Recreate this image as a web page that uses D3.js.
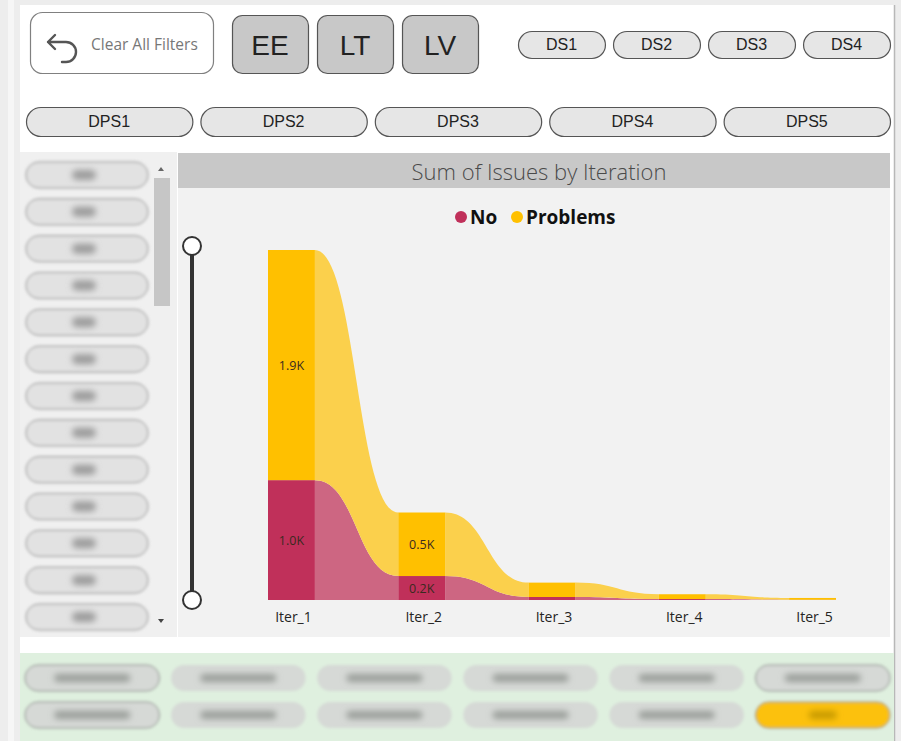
<!DOCTYPE html>
<meta charset="utf-8">
<style>
  body { margin: 0; background: #efefef; }
  svg { display: block; }
  .btnText { font-family: "Liberation Sans", Arial, sans-serif; fill: #222; }
  .seg { font-family: "Open Sans", sans-serif; }
</style>
<body>
<script src="https://d3js.org/d3.v7.min.js"></script>
<script>

// data
var iterations = ["Iter_1", "Iter_2", "Iter_3", "Iter_4", "Iter_5"];
var noValues = [1000, 200, 25, 8, 2];
var problemValues = [1920, 530, 120, 40, 15];
var seriesNames = ["No", "Problems"];

// slicer buttons
var topButtons = ["EE", "LT", "LV"];
var dsButtons = ["DS1", "DS2", "DS3", "DS4"];
var dpsButtons = ["DPS1", "DPS2", "DPS3", "DPS4", "DPS5"];

var W = 901, H = 741;

var svg = d3.select("body").append("svg")
  .attr("width", W)
  .attr("height", H);

var defs = svg.append("defs");
defs.append("filter").attr("id", "blurPill")
  .attr("x", "-10%").attr("y", "-30%").attr("width", "120%").attr("height", "160%")
  .append("feGaussianBlur").attr("stdDeviation", 1.6);
defs.append("filter").attr("id", "blurText")
  .attr("x", "-30%").attr("y", "-80%").attr("width", "160%").attr("height", "260%")
  .append("feGaussianBlur").attr("stdDeviation", 3);

// page frame
svg.append("rect").attr("x", 0).attr("y", 0).attr("width", W).attr("height", H).attr("fill", "#ededed");
svg.append("rect").attr("x", 8).attr("y", 0).attr("width", 6).attr("height", H).attr("fill", "#f6f6f6");
svg.append("rect").attr("x", 20).attr("y", 5).attr("width", 874).attr("height", H - 5).attr("fill", "#fff");
svg.append("line").attr("x1", 894.5).attr("x2", 894.5).attr("y1", 5).attr("y2", H)
  .attr("stroke", "#b8b8b8").attr("stroke-width", 1.5);

// ---------- top controls ----------
var clear = svg.append("g");
clear.append("rect")
  .attr("x", 30.5).attr("y", 12.5).attr("width", 183).attr("height", 61).attr("rx", 12)
  .attr("fill", "#fff").attr("stroke", "#808080").attr("stroke-width", 1.2);
clear.append("path")
  .attr("d", "M48,42 L66,42 A10,10 0 0 1 66,62 L62,62 M55,35 L48,42 L55,49")
  .attr("fill", "none").attr("stroke", "#555").attr("stroke-width", 2.4)
  .attr("stroke-linecap", "round").attr("stroke-linejoin", "round");
clear.append("text")
  .attr("x", 91).attr("y", 50)
  .attr("font-family", "'Open Sans', sans-serif").attr("font-size", 15.5)
  .attr("fill", "#777").text("Clear All Filters");

var bx = d3.scaleBand().domain(topButtons).range([232, 478]).paddingInner(0.106);
var tb = svg.selectAll(".tb").data(topButtons).enter().append("g");
tb.append("rect")
  .attr("x", function(d) { return bx(d) + 0.5; }).attr("y", 15.5)
  .attr("width", bx.bandwidth()).attr("height", 58).attr("rx", 10)
  .attr("fill", "#c8c8c8").attr("stroke", "#555").attr("stroke-width", 1.2);
tb.append("text").attr("class", "btnText")
  .attr("x", function(d) { return bx(d) + bx.bandwidth() / 2; }).attr("y", 55)
  .attr("text-anchor", "middle").attr("font-size", 28).text(function(d) { return d; });

function pillRow(names, x0, x1, y, h, pad, fs) {
  var sc = d3.scaleBand().domain(names).range([x0, x1]).paddingInner(pad);
  var g = svg.append("g").selectAll("g").data(names).enter().append("g");
  g.append("rect")
    .attr("x", function(d) { return sc(d) + 0.5; }).attr("y", y + 0.5)
    .attr("width", sc.bandwidth()).attr("height", h).attr("rx", h / 2)
    .attr("fill", "#e6e6e6").attr("stroke", "#555").attr("stroke-width", 1.2);
  g.append("text").attr("class", "btnText")
    .attr("x", function(d) { return sc(d) + sc.bandwidth() / 2; }).attr("y", y + h / 2 + fs * 0.36)
    .attr("text-anchor", "middle").attr("font-size", fs).text(function(d) { return d; });
}
pillRow(dsButtons, 518, 890, 31, 27, 0.085, 16);
pillRow(dpsButtons, 26, 890, 107, 29, 0.046, 16);

// ---------- left slicer (blurred) ----------
svg.append("rect").attr("x", 20).attr("y", 152).attr("width", 157).attr("height", 485).attr("fill", "#f0f0f0");
var leftRows = d3.range(13);
var ly = d3.scaleLinear().domain([0, 12]).range([162, 604]);
var lp = svg.append("g").selectAll("g").data(leftRows).enter().append("g");
lp.append("rect")
  .attr("x", 26).attr("y", function(d) { return ly(d); })
  .attr("width", 122).attr("height", 26).attr("rx", 13)
  .attr("fill", "#e2e2e2").attr("stroke", "#8a8a8a").attr("stroke-width", 1)
  .attr("filter", "url(#blurPill)");
lp.append("rect")
  .attr("x", 72).attr("y", function(d) { return ly(d) + 8; })
  .attr("width", 24).attr("height", 10).attr("rx", 5)
  .attr("fill", "#9c9c9c").attr("filter", "url(#blurText)");
// scrollbar
svg.append("rect").attr("x", 154).attr("y", 178).attr("width", 16).attr("height", 128).attr("fill", "#c6c6c6");
svg.append("path").attr("d", "M158,171 L164,171 L161,167 Z").attr("fill", "#666");
svg.append("path").attr("d", "M158,619 L164,619 L161,623 Z").attr("fill", "#444");

// ---------- ribbon chart ----------
svg.append("rect").attr("x", 178).attr("y", 153).attr("width", 712).attr("height", 484).attr("fill", "#f2f2f2");
svg.append("rect").attr("x", 178).attr("y", 153).attr("width", 712).attr("height", 35).attr("fill", "#c8c8c8");
svg.append("text")
  .attr("x", 539).attr("y", 180).attr("text-anchor", "middle")
  .attr("font-family", "'Open Sans', sans-serif").attr("font-weight", 300)
  .attr("font-size", 22).attr("fill", "#4a4a4a")
  .text("Sum of Issues by Iteration");

var colors = { No: "#c0305a", Problems: "#ffc000" };
var ribbonColors = { No: "#cd6682", Problems: "#fbd04c" };

// legend
var legend = svg.append("g");
var legX = [461, 517];
seriesNames.forEach(function(s, i) {
  legend.append("circle").attr("cx", legX[i]).attr("cy", 217).attr("r", 6).attr("fill", colors[s]);
  legend.append("text")
    .attr("x", legX[i] + 9).attr("y", 224)
    .attr("font-family", "'Open Sans', sans-serif").attr("font-weight", 700)
    .attr("font-size", 19).attr("fill", "#111").text(s);
});

// slider
svg.append("line").attr("x1", 192).attr("x2", 192).attr("y1", 246).attr("y2", 600)
  .attr("stroke", "#333").attr("stroke-width", 4);
[246, 600].forEach(function(cy) {
  svg.append("circle").attr("cx", 192).attr("cy", cy).attr("r", 9)
    .attr("fill", "#fff").attr("stroke", "#333").attr("stroke-width", 2);
});

var x = d3.scaleBand().domain(iterations).range([268, 836]).paddingInner(0.64).paddingOuter(0);
var y = d3.scaleLinear().domain([0, 2920]).range([600, 250]);

var table = iterations.map(function(it, i) {
  return { iter: it, No: noValues[i], Problems: problemValues[i] };
});
var stacked = d3.stack().keys(seriesNames)(table);

var area = d3.area()
  .x(function(d) { return d.x; })
  .y0(function(d) { return d.y0; })
  .y1(function(d) { return d.y1; })
  .curve(d3.curveBumpX);

var chart = svg.append("g");

// ribbons between bands
stacked.forEach(function(layer) {
  for (var i = 0; i < iterations.length - 1; i++) {
    var a = layer[i], b = layer[i + 1];
    var pts = [
      { x: x(iterations[i]) + x.bandwidth(), y0: y(a[0]), y1: y(a[1]) },
      { x: x(iterations[i + 1]), y0: y(b[0]), y1: y(b[1]) }
    ];
    chart.append("path").attr("d", area(pts)).attr("fill", ribbonColors[layer.key]);
  }
});

// bands
stacked.forEach(function(layer) {
  chart.selectAll(null).data(layer).enter().append("rect")
    .attr("x", function(d) { return x(d.data.iter); })
    .attr("width", x.bandwidth())
    .attr("y", function(d) { return y(d[1]); })
    .attr("height", function(d) { return y(d[0]) - y(d[1]); })
    .attr("fill", colors[layer.key]);
  chart.selectAll(null).data(layer.filter(function(d) { return y(d[0]) - y(d[1]) > 18; }))
    .enter().append("text").attr("class", "seg")
    .attr("x", function(d) { return x(d.data.iter) + x.bandwidth() / 2; })
    .attr("y", function(d) { return (y(d[0]) + y(d[1])) / 2 + 4.5; })
    .attr("text-anchor", "middle").attr("font-size", 12.5).attr("fill", "#3a2a20")
    .text(function(d) { return ((d[1] - d[0]) / 1000).toFixed(1) + "K"; });
});

var xAxis = svg.append("g")
  .attr("transform", "translate(2,602)")
  .call(d3.axisBottom(x).tickSize(0).tickPadding(10));
xAxis.select(".domain").remove();
xAxis.selectAll("text")
  .attr("font-family", "'Open Sans', sans-serif").attr("font-size", 14).attr("fill", "#252423");

// ---------- bottom slicer (blurred) ----------
svg.append("rect").attr("x", 20).attr("y", 653).attr("width", 874).attr("height", 88).attr("fill", "#dff0df");
var bottomCols = d3.range(6);
var bottomRows = [665, 702];
var bc = d3.scaleBand().domain(bottomCols).range([25, 890]).paddingInner(0.08);
bottomRows.forEach(function(ry, r) {
  bottomCols.forEach(function(c) {
    var gold = (r === 1 && c === 5);
    svg.append("rect")
      .attr("x", bc(c)).attr("y", ry).attr("width", bc.bandwidth()).attr("height", 26).attr("rx", 13)
      .attr("fill", gold ? "#fcc10a" : "#d6d9d6")
      .attr("stroke", (c === 0 || c === 5) ? "#888" : "none")
      .attr("filter", "url(#blurPill)");
    svg.append("rect")
      .attr("x", bc(c) + bc.bandwidth() / 2 - (gold ? 14 : 38)).attr("y", ry + 9)
      .attr("width", gold ? 28 : 76).attr("height", 8).attr("rx", 4)
      .attr("fill", gold ? "#c69a00" : "#9a9e9a").attr("filter", "url(#blurText)");
  });
});

</script>
</body>
